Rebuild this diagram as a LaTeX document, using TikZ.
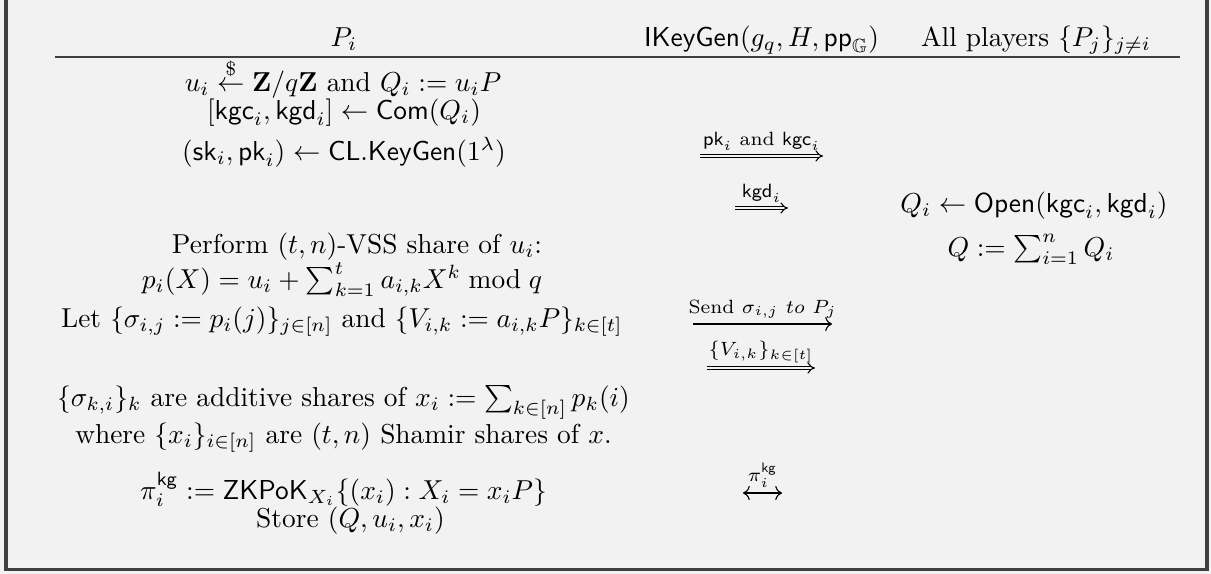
\documentclass[tikz,border=0pt]{standalone}
\usepackage{amsmath}
\usepackage{amssymb}
\usepackage{tikz}
\usetikzlibrary{arrows.meta}
\definecolor{pagegray}{RGB}{242, 242, 242}
\definecolor{framegray}{RGB}{64, 64, 64}

\tikzset{
  line/.style={anchor=base, inner sep=0pt},
  msg/.style={line width=0.4pt, -{To}},
  dmsg/.style={line width=0.4pt, double=pagegray, double distance=1pt, -{Implies}},
  bmsg/.style={line width=0.4pt, {To}-{To}},
  msglabel/.style={above, inner sep=1.8pt, font=\scriptsize},
}

\begin{document}
\begin{tikzpicture}[x=0.365pt, y=-0.365pt]
  \fill[pagegray] (0,0) rectangle (1211,574);
  \useasboundingbox (0,0) rectangle (1211,574);
  \draw[framegray, line width=1.45pt] (6,0) -- (6,569.5) -- (1207,569.5) -- (1207,0);

  % header
  \node[line] (hpi) at (344,46) {$P_i$};
  \node[line] (hgen) at (761.5,46) {$\mathsf{IKeyGen}(g_q, H, \mathsf{pp}_{\mathbb{G}})$};
  \node[line] (hall) at (1036,46) {All players $\{P_j\}_{j\neq i}$};
  \coordinate (rulel) at (55,57);
  \coordinate (ruler) at (1180,57);
  \draw[framegray, line width=0.5pt] (rulel) -- (ruler);

  % player P_i
  \node[line] (l1) at (343,91) {$u_i \stackrel{\$}{\leftarrow} \mathbf{Z}/q\mathbf{Z}$ and $Q_i := u_iP$};
  \node[line] (l2) at (344,119) {$[\mathsf{kgc}_i, \mathsf{kgd}_i] \leftarrow \mathsf{Com}(Q_i)$};
  \node[line] (l3) at (344,160) {$(\mathsf{sk}_i, \mathsf{pk}_i) \leftarrow \mathsf{CL.KeyGen}(1^\lambda)$};
  \node[line] (l4) at (357,253) {Perform $(t,n)$-VSS share of $u_i$:};
  \node[line] (l5) at (342,288) {$p_i(X) = u_i + \sum_{k=1}^t a_{i,k}X^k \bmod q$};
  \node[line] (l6) at (342,327) {Let $\{\sigma_{i,j} := p_i(j)\}_{j\in[n]}$ and $\{V_{i,k} := a_{i,k}P\}_{k\in[t]}$};
  \node[line] (l7) at (343.5,406) {$\{\sigma_{k,i}\}_k$ are additive shares of $x_i := \sum_{k\in[n]} p_k(i)$};
  \node[line] (l8) at (343.5,443) {where $\{x_i\}_{i\in[n]}$ are $(t,n)$ Shamir shares of $x$.};
  \node[line] (l9) at (343.5,499) {$\pi_i^{\mathsf{kg}} := \mathsf{ZKPoK}_{X_i}\{(x_i) : X_i = x_iP\}$};
  \node[line] (l10) at (350.5,527) {Store $(Q, u_i, x_i)$};

  % all other players
  \node[line] (r1) at (1034,212) {$Q_i \leftarrow \mathsf{Open}(\mathsf{kgc}_i, \mathsf{kgd}_i)$};
  \node[line] (r2) at (1031,256) {$Q := \sum_{i=1}^n Q_i$};

  % messages
  \coordinate (m1a) at (700,156); \coordinate (m1b) at (823,156);
  \coordinate (m2a) at (735,208); \coordinate (m2b) at (788,208);
  \coordinate (m3a) at (693,324); \coordinate (m3b) at (832,324);
  \coordinate (m4a) at (707,368); \coordinate (m4b) at (815,368);
  \coordinate (m5a) at (743,493); \coordinate (m5b) at (782,493);
  \draw[dmsg] (m1a) -- node[msglabel] (t1) {$\mathsf{pk}_i$ and $\mathsf{kgc}_i$} (m1b);
  \draw[dmsg] (m2a) -- node[msglabel] (t2) {$\mathsf{kgd}_i$} (m2b);
  \draw[msg] (m3a) -- node[msglabel] (t3) {Send $\sigma_{i,j}\ to\ P_j$} (m3b);
  \draw[dmsg] (m4a) -- node[msglabel] (t4) {$\{V_{i,k}\}_{k\in[t]}$} (m4b);
  \draw[bmsg] (m5a) -- node[msglabel] (t5) {$\pi_i^{\mathsf{kg}}$} (m5b);
\end{tikzpicture}
\end{document}
